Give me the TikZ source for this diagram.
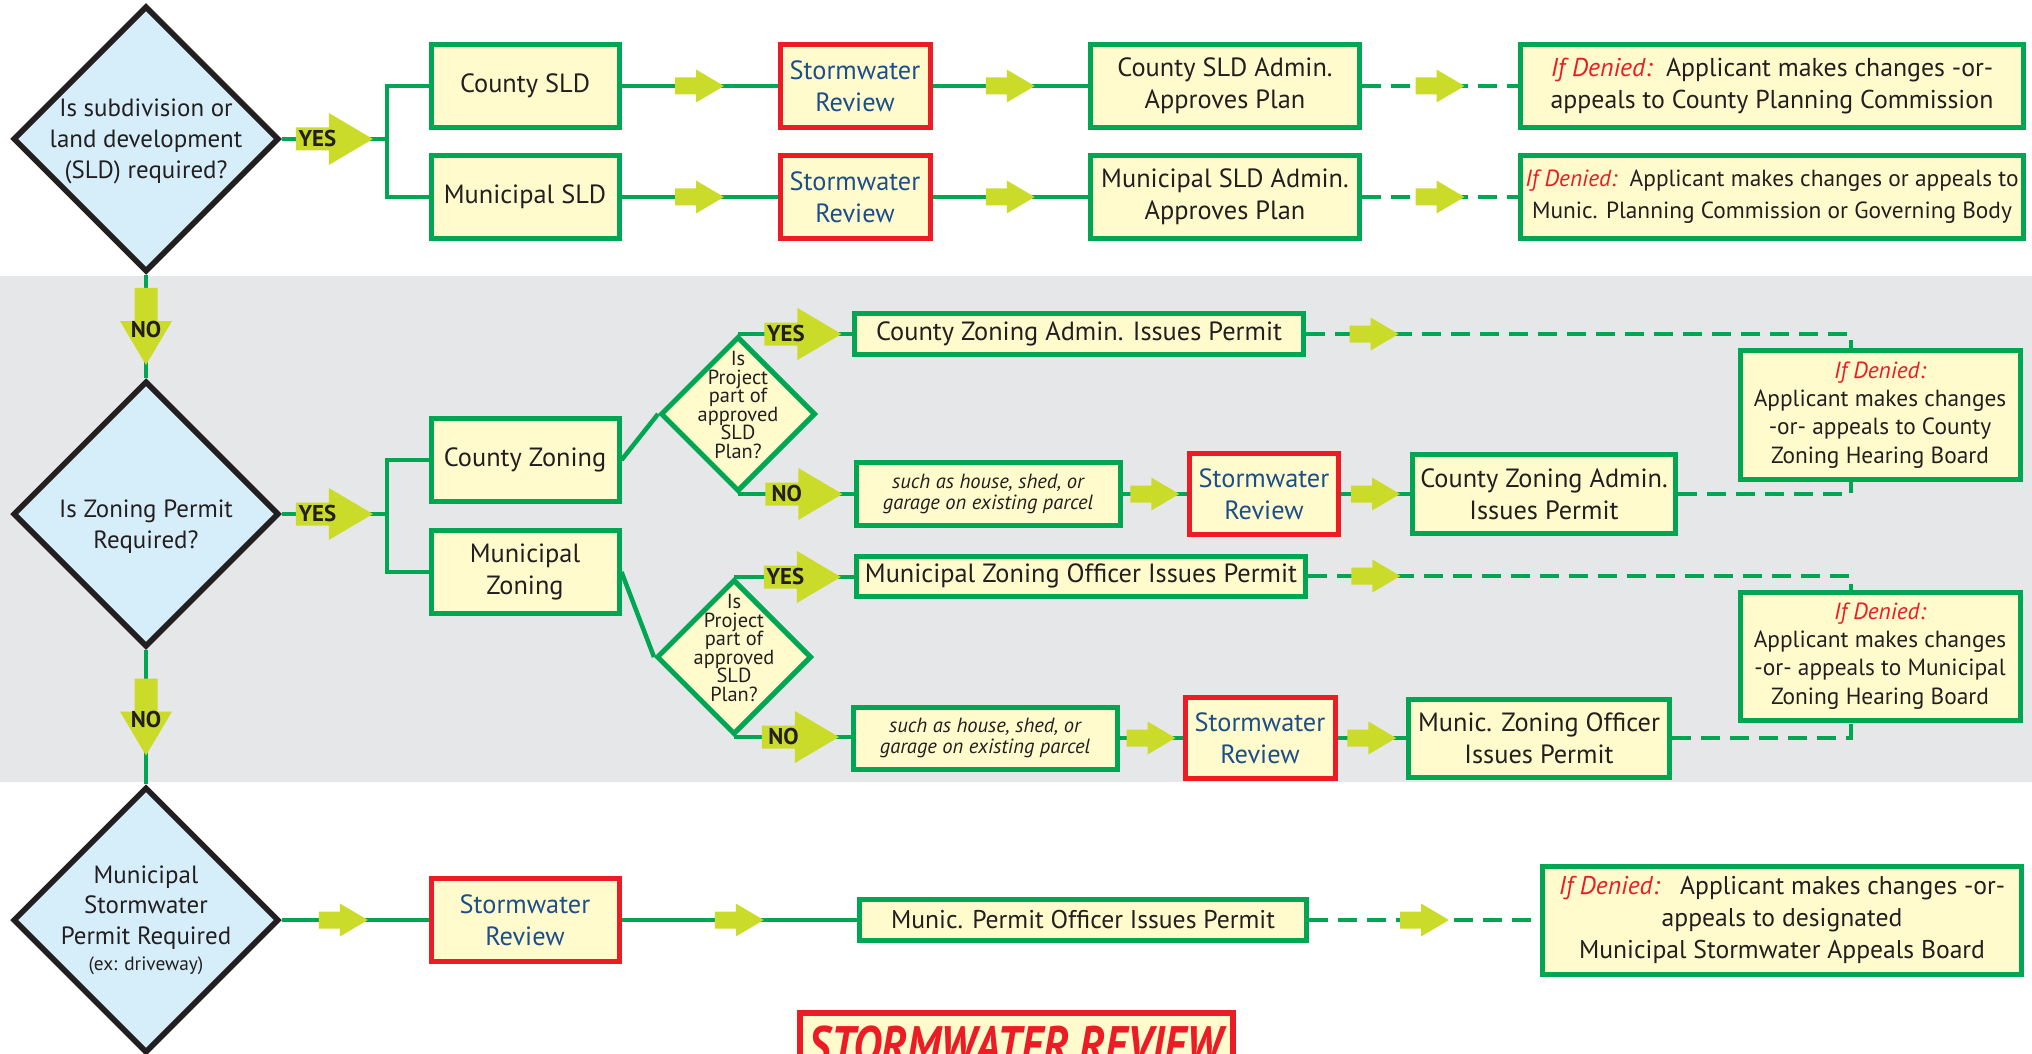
\documentclass[tikz,border=0pt]{standalone}
\usepackage{fontspec}
\setmainfont{PT Sans}
\usetikzlibrary{shapes.geometric,calc}

\definecolor{flowgreen}{HTML}{00A651}
\definecolor{boxyellow}{HTML}{FFFBCC}
\definecolor{revred}{HTML}{ED1C24}
\definecolor{arrowlime}{HTML}{CBDB2A}
\definecolor{qblue}{HTML}{D6EEFA}
\definecolor{inkdark}{HTML}{231F20}
\definecolor{swblue}{HTML}{1C4E8C}
\definecolor{bandgray}{HTML}{E6E7E8}

\newcommand{\px}{0.02cm}
\newcommand{\deniedtag}{{\color{revred}\itshape If Denied:}}
\newcommand{\tightlines}{\lineskiplimit=-20pt\relax}

\tikzset{
  boxsize/.style 2 args={minimum width=#1*\px, minimum height=#2*\px},
  box/.style={draw=flowgreen, line width=0.1cm, fill=boxyellow, text=inkdark,
    align=center, inner sep=0pt, font=\fontsize{15}{18.2}\selectfont},
  swbox/.style={box, draw=revred, text=swblue},
  examplebox/.style={box, font=\itshape\fontsize{11.7}{12.3}\selectfont},
  keybox/.style={draw=revred, line width=0.12cm, fill=boxyellow, text=revred,
    inner xsep=0pt, inner ysep=0.26cm, font=\bfseries\itshape\fontsize{30}{30}\selectfont},
  bigq/.style={diamond, aspect=1, draw=inkdark, line width=0.11cm, fill=qblue,
    inner sep=0pt, minimum width=266*\px, minimum height=266*\px},
  smallq/.style={diamond, aspect=1, draw=flowgreen, line width=0.1cm, fill=boxyellow,
    inner sep=0pt, minimum width=155*\px, minimum height=155*\px},
  qtext/.style={align=center, text=inkdark, font=\fontsize{14.2}{17.5}\selectfont},
  smallqtext/.style={align=center, text=inkdark, yshift=0.18cm,
    font=\fontsize{11.6}{10.6}\selectfont\tightlines},
  link/.style={draw=flowgreen, line width=0.09cm},
  deniedlink/.style={link, dash pattern=on 0.38cm off 0.2cm},
  answer/.style={text=inkdark, inner sep=0pt, font=\bfseries\fontsize{13}{13}\selectfont},
  pics/blockarrow/.style={code={
    \fill[arrowlime] (-24.5,-8.5) -- (-3.5,-8.5) -- (-3.5,-16.5) -- (24.5,0)
      -- (-3.5,16.5) -- (-3.5,8.5) -- (-24.5,8.5) -- cycle;}},
  pics/answerarrow/.style 2 args={code={
    \fill[arrowlime] (-38.5,-11.5) -- (-5.5,-11.5) -- (-5.5,-26) -- (38.5,0)
      -- (-5.5,26) -- (-5.5,11.5) -- (-38.5,11.5) -- cycle;
    \node[answer] at (#2,0) {#1};}},
}

\begin{document}
\begin{tikzpicture}[x=0.02cm, y=0.02cm]
  \useasboundingbox (0,0) rectangle (2032,-1054);

  % grey band behind the zoning part
  \fill[bandgray] (0,-276) rectangle (2032,-782);

  % decision diamonds
  \node[bigq, label={[qtext, yshift=-0.05cm]center:{Is subdivision or\\land development\\(SLD) required?}}] (q1) at (146,-139) {};
  \node[bigq, label={[qtext, yshift=-0.26cm]center:{Is Zoning Permit\\Required?}}] (q2) at (146,-514) {};
  \node[bigq, label={[qtext]center:{Municipal\\Stormwater\\Permit Required\\[-0.1cm]{\fontsize{11}{13}\selectfont (ex: driveway)}}}] (q3) at (146,-920) {};

  % subdivision / land development
  \node[box, boxsize={188}{83}] (csld) at (525,-86) {County SLD};
  \node[box, boxsize={188}{83}] (msld) at (525,-197) {Municipal SLD};
  \node[swbox, boxsize={150}{83}] (sw1) at (855,-86) {Stormwater\\Review};
  \node[swbox, boxsize={150}{83}] (sw2) at (855,-197) {Stormwater\\Review};
  \node[box, boxsize={269}{83}] (cadm) at (1225,-86) {County SLD Admin.\\Approves Plan};
  \node[box, boxsize={269}{83}] (madm) at (1225,-197) {Municipal SLD Admin.\\Approves Plan};
  \node[box, boxsize={503}{83}, font=\fontsize{14.7}{18.2}\selectfont] (den1) at (1772,-86) {\deniedtag\ \ Applicant makes changes -or-\\appeals to County Planning Commission};
  \node[box, boxsize={503}{83}, font=\fontsize{13.3}{18.2}\selectfont] (den2) at (1772,-197) {\deniedtag\ \ Applicant makes changes or appeals to\\Munic. Planning Commission or Governing Body};

  % zoning
  \node[box, boxsize={188}{83}] (cz) at (525,-460) {County Zoning};
  \node[box, boxsize={188}{83}] (mz) at (525,-572) {Municipal\\Zoning};
  \node[smallq, label={[smallqtext]center:{Is\\Project\\part of\\approved\\SLD\\Plan?}}] (p1) at (738,-414) {};
  \node[smallq, label={[smallqtext]center:{Is\\Project\\part of\\approved\\SLD\\Plan?}}] (p2) at (734,-657) {};
  \node[box, boxsize={449}{41}] (czyes) at (1079,-334) {County Zoning Admin. Issues Permit};
  \node[examplebox, boxsize={264}{63}] (ex1) at (988,-494) {such as house, shed, or\\garage on existing parcel};
  \node[swbox, boxsize={149}{81}] (sw3) at (1264,-494) {Stormwater\\Review};
  \node[box, boxsize={263}{79}] (czadm) at (1544,-494) {County Zoning Admin.\\Issues Permit};
  \node[box, boxsize={280}{129}, font=\fontsize{13.3}{16}\selectfont] (den3) at (1880,-415) {\deniedtag\\Applicant makes changes\\-or- appeals to County\\Zoning Hearing Board};
  \node[box, boxsize={449}{40}] (mzyes) at (1081,-576) {Municipal Zoning Officer Issues Permit};
  \node[examplebox, boxsize={264}{62}] (ex2) at (985,-738) {such as house, shed, or\\garage on existing parcel};
  \node[swbox, boxsize={150}{81}] (sw4) at (1260,-738) {Stormwater\\Review};
  \node[box, boxsize={261}{78}] (mzoff) at (1539,-738) {Munic. Zoning Officer\\Issues Permit};
  \node[box, boxsize={280}{128}, font=\fontsize{13.3}{16}\selectfont] (den4) at (1880,-656) {\deniedtag\\Applicant makes changes\\-or- appeals to Municipal\\Zoning Hearing Board};

  % stormwater permit
  \node[swbox, boxsize={188}{83}] (sw5) at (525,-920) {Stormwater\\Review};
  \node[box, boxsize={447}{41}, font=\fontsize{14.6}{18.2}\selectfont] (mper) at (1083,-920) {Munic. Permit Officer Issues Permit};
  \node[box, boxsize={479}{108}, font=\fontsize{14.6}{18.2}\selectfont] (den5) at (1782,-920) {\deniedtag\ \ \ Applicant makes changes -or-\\appeals to designated\\Municipal Stormwater Appeals Board};

  % key
  \node[keybox, anchor=north, minimum width=433*\px, text depth=1.2cm] (key) at (1016,-1010) {\scalebox{0.83}[1]{STORMWATER REVIEW}};

  % connectors
  \coordinate (b1) at (387,-139);
  \coordinate (b2) at (387,-514);
  \draw[link] (q1.east) -- (b1);
  \draw[link] (csld.west) -| (b1) |- (msld.west);
  \draw[link] (q2.east) -- (b2);
  \draw[link] (cz.west) -| (b2) |- (mz.west);
  \draw[link] (q1) -- (q2);
  \draw[link] (q2) -- (q3);
  \draw[link] (q3) -- (sw5);
  \foreach \a/\b in {csld/sw1, sw1/cadm, msld/sw2, sw2/madm, ex1/sw3, sw3/czadm, ex2/sw4, sw4/mzoff, sw5/mper}
    \draw[link] (\a) -- (\b);
  \foreach \a/\b in {cadm/den1, madm/den2, mper/den5}
    \draw[deniedlink] (\a) -- (\b);
  \draw[link] (cz.east) -- (p1.west);
  \draw[link] (mz.east) -- (p2.west);
  \draw[link] (p1.north) -- (p1.north -| czyes.west);
  \draw[link] (p1.south) -- (p1.south -| ex1.west);
  \draw[link] (p2.north) -- (p2.north -| mzyes.west);
  \draw[link] (p2.south) -- (p2.south -| ex2.west);

  % dashed lines to the zoning appeal boxes
  \coordinate (d3in) at ([xshift=-0.58cm]den3.north);
  \coordinate (d3out) at ([xshift=-0.58cm]den3.south);
  \coordinate (d4in) at ([xshift=-0.58cm]den4.north);
  \coordinate (d4out) at ([xshift=-0.58cm]den4.south);
  \draw[deniedlink] (czyes.east) -| (d3in);
  \draw[deniedlink] (czadm.east) -| (d3out);
  \draw[deniedlink] (mzyes.east) -| (d4in);
  \draw[deniedlink] (mzoff.east) -| (d4out);

  % block arrows
  \foreach \a/\b in {csld/sw1, sw1/cadm, cadm/den1, msld/sw2, sw2/madm, madm/den2, ex1/sw3, sw3/czadm, ex2/sw4, sw4/mzoff, sw5/mper, mper/den5}
    \path ($(\a.east)!0.5!(\b.west)$) pic {blockarrow};
  \path ($(q3.east)!0.42!(sw5.west)$) pic {blockarrow};
  \path ($(czyes.east)!0.125!(d3in |- czyes.east)$) pic {blockarrow};
  \path ($(mzyes.east)!0.125!(d4in |- mzyes.east)$) pic {blockarrow};

  % yes / no arrows
  \path ($(q1.east)!0.5!(b1)$) pic {answerarrow={YES}{-17}};
  \path ($(q2.east)!0.5!(b2)$) pic {answerarrow={YES}{-17}};
  \path ($(q1.south)!0.5!(q2.north)$) pic[rotate=-90] {answerarrow={NO}{3}};
  \path ($(q2.south)!0.5!(q3.north)$) pic[rotate=-90] {answerarrow={NO}{3}};
  \path ($(p1.north)!0.57!(p1.north -| czyes.west)$) pic {answerarrow={YES}{-17}};
  \path ($(p1.south)!0.57!(p1.south -| ex1.west)$) pic {answerarrow={NO}{-17}};
  \path ($(p2.north)!0.57!(p2.north -| mzyes.west)$) pic {answerarrow={YES}{-17}};
  \path ($(p2.south)!0.57!(p2.south -| ex2.west)$) pic {answerarrow={NO}{-17}};
\end{tikzpicture}
\end{document}
